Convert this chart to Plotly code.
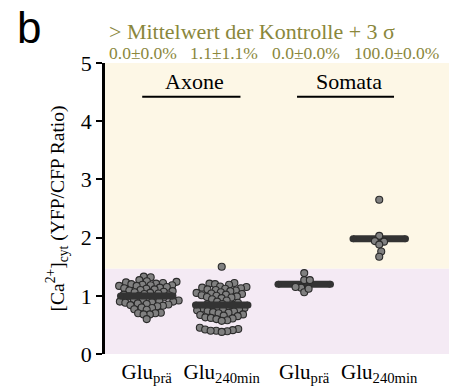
import math
import plotly.graph_objects as go

# ---------------- data ----------------
categories = ["Glu<sub>prä</sub>", "Glu<sub>240min</sub>", "Glu<sub>prä</sub>", "Glu<sub>240min</sub>"]
positions = [0.0, 1.0, 2.1, 3.1]
groups = ["Axone", "Somata"]

axone_pre = [1.33, 1.32,
             1.27, 1.25, 1.24, 1.23, 1.22, 1.21, 1.20, 1.19, 1.18, 1.18, 1.17, 1.17,
             1.15, 1.14, 1.13, 1.12, 1.11, 1.10, 1.09, 1.08, 1.07, 1.06, 1.05, 1.04,
             1.03, 1.02, 1.01, 1.00, 0.99, 0.98, 0.97, 0.96,
             0.94, 0.93, 0.92, 0.91, 0.90, 0.90, 0.89, 0.88, 0.87, 0.86, 0.85, 0.84,
             0.83, 0.82, 0.80, 0.79, 0.77, 0.76,
             0.71, 0.70, 0.70, 0.68, 0.68, 0.60]
axone_240 = [1.50,
             1.22, 1.21, 1.20, 1.19,
             1.16, 1.15, 1.14, 1.13, 1.12, 1.11, 1.10, 1.09, 1.08,
             1.06, 1.05, 1.04, 1.03, 1.02, 1.01, 1.00, 0.99, 0.98, 0.97, 0.96,
             0.94, 0.92, 0.90, 0.88, 0.86, 0.85, 0.84, 0.83,
             0.82, 0.80, 0.79, 0.78, 0.77, 0.76, 0.75, 0.74, 0.73, 0.72, 0.71, 0.70,
             0.68, 0.67, 0.66, 0.65, 0.63, 0.62, 0.61, 0.60, 0.58, 0.57,
             0.45, 0.43, 0.42, 0.41, 0.40, 0.40, 0.39, 0.38]
soma_pre = [1.39, 1.27, 1.27, 1.14, 1.06, 1.12, 1.15]
soma_240 = [2.65, 2.03, 1.93, 1.94, 1.88, 1.76, 1.67]
series = [axone_pre, axone_240, soma_pre, soma_240]

threshold = 1.47          # Mittelwert der Kontrolle + 3 sigma
pct_mean = [0.0, 1.1, 0.0, 100.0]
pct_sd = [0.0, 1.1, 0.0, 0.0]

# ---------------- styling / layout constants ----------------
W, H = 449, 389
ML, MR, MT, MB = 105, 0, 63, 35
XR = [-0.556, 4.03]
YR = [0, 5]
SX = (W - ML - MR) / (XR[1] - XR[0])   # px per x unit
SY = (H - MT - MB) / (YR[1] - YR[0])   # px per y unit
DOT = 7.0
SPACING = 5.6
SERIF = "Liberation Serif"
OLIVE = "#8a873c"


def swarm(vals, d=SPACING):
    placed = []
    out = [0.0] * len(vals)
    order = sorted(range(len(vals)), key=lambda i: vals[i])
    for i in order:
        y = vals[i] * SY
        cands = [0.0]
        for px, py in placed:
            dy = y - py
            if abs(dy) < d:
                dx = math.sqrt(d * d - dy * dy)
                cands += [px + dx, px - dx]
        cands.sort(key=abs)
        chosen = 0.0
        for c in cands:
            if all((c - px) ** 2 + (y - py) ** 2 >= d * d - 1e-6 for px, py in placed):
                chosen = c
                break
        placed.append((chosen, y))
        out[i] = chosen / SX
    return out


fig = go.Figure()


def add_bar(k):
    vals = series[k]
    m = sum(vals) / len(vals)
    p = positions[k]
    fig.add_trace(go.Scatter(x=[p - 0.35, p + 0.35], y=[m, m], mode="lines+markers",
                             line=dict(color="#333333", width=7),
                             marker=dict(size=7, color="#333333"),
                             hoverinfo="skip", showlegend=False))


def add_points(k):
    vals = series[k]
    offs = swarm(vals)
    fig.add_trace(go.Scatter(x=[positions[k] + o for o in offs], y=vals, mode="markers",
                             marker=dict(size=DOT, color="#808080",
                                         line=dict(color="#2a2a2a", width=1.1)),
                             showlegend=False))


# axon groups: bar on top of points; soma groups: points on top of bar
for k in (0, 1):
    add_points(k)
    add_bar(k)
for k in (2, 3):
    add_bar(k)
    add_points(k)

# background regions
fig.add_shape(type="rect", xref="paper", yref="y", x0=0, x1=1, y0=0, y1=threshold,
              fillcolor="#f4eaf4", line_width=0, layer="below")
fig.add_shape(type="rect", xref="paper", yref="y", x0=0, x1=1, y0=threshold, y1=YR[1],
              fillcolor="#fdf7e6", line_width=0, layer="below")

# group labels with lines
group_spans = [(-0.06, 1.25), (2.004, 3.297)]
for name, (a, b) in zip(groups, group_spans):
    fig.add_shape(type="line", xref="x", yref="y", x0=a, x1=b, y0=4.42, y1=4.42,
                  line=dict(color="black", width=2))
    fig.add_annotation(x=(a + b) / 2 + 0.04, y=4.69, xref="x", yref="y", text=name,
                       showarrow=False, font=dict(family=SERIF, size=22, color="black"))

# header texts
fig.add_annotation(x=0.005, y=1.107, xref="paper", yref="paper", xanchor="left",
                   yanchor="middle",
                   text="> Mittelwert der Kontrolle + 3 σ", showarrow=False,
                   font=dict(family=SERIF, size=22, color=OLIVE))
pct_x = [0.0058, 0.241, 0.48, 0.717]
for xp, m, s in zip(pct_x, pct_mean, pct_sd):
    fig.add_annotation(x=xp, y=1.034, xref="paper", yref="paper", xanchor="left",
                       yanchor="middle",
                       text=f"{m:.1f}±{s:.1f}%", showarrow=False,
                       font=dict(family=SERIF, size=17.5, color=OLIVE))
fig.add_annotation(x=-0.262, y=1.122, xref="paper", yref="paper", xanchor="left",
                   yanchor="middle",
                   text="b", showarrow=False,
                   font=dict(family="Liberation Sans", size=44, color="black"))

fig.update_layout(
    width=W, height=H, margin=dict(l=ML, r=MR, t=MT, b=MB),
    paper_bgcolor="white", plot_bgcolor="white",
    font=dict(family=SERIF, color="black"),
    xaxis=dict(range=XR, tickvals=positions, ticktext=categories, showline=False,
               showgrid=False, zeroline=False, ticks="", ticklabelstandoff=3,
               tickfont=dict(family=SERIF, size=21, color="black")),
    yaxis=dict(range=YR, tickvals=[0, 1, 2, 3, 4, 5], showline=True, linecolor="black",
               linewidth=2.5, ticks="outside", ticklen=6, tickwidth=2, tickcolor="black",
               showgrid=False, zeroline=False,
               tickfont=dict(family=SERIF, size=22, color="black"),
               title=dict(text="[Ca<sup>2+</sup>]<sub>cyt</sub> (YFP/CFP Ratio)",
                          font=dict(family=SERIF, size=19.5, color="black"), standoff=12)),
)

fig.write_html("out.html", config={"displayModeBar": False},
               post_script="document.body.style.margin='0';document.body.style.padding='0';"
                           "document.body.style.overflow='hidden';")
